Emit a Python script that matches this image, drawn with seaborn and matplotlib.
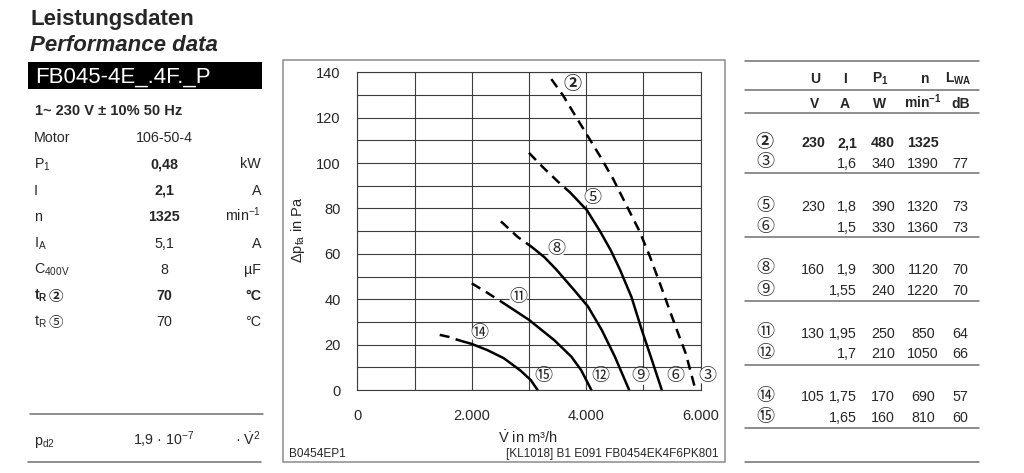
import numpy as np
import pandas as pd
import matplotlib
matplotlib.use("Agg")
import matplotlib.pyplot as plt
from matplotlib.patches import Rectangle
from matplotlib.lines import Line2D
import seaborn as sns

# fan curves (V in m3/h, dp_fa in Pa)
curve_3_v = [3390, 3590, 3770, 4000, 4230, 4470, 4700, 4930, 5110, 5330, 5560, 5740, 5910]
curve_3_dp = [137, 130, 122.5, 113, 103.5, 93, 81.5, 70, 59, 44, 28, 16, 0]

curve_5_dash_v = [3000, 3250, 3540, 3720]
curve_5_dash_dp = [104.5, 98, 91, 87]
curve_5_v = [3720, 4010, 4240, 4430, 4590, 4790, 4970, 5150, 5320]
curve_5_dp = [87, 79.3, 70, 61.5, 53, 41, 26.5, 13, 0]

curve_8_dash_v = [2510, 2800, 3050]
curve_8_dash_dp = [74.3, 67.5, 63]
curve_8_v = [3050, 3270, 3480, 3790, 4030, 4270, 4500, 4750]
curve_8_dp = [63, 58.5, 53, 44, 36.8, 26.5, 14.7, 0]

curve_11_dash_v = [2000, 2280, 2560]
curve_11_dash_dp = [47, 42.7, 38.2]
curve_11_v = [2560, 3000, 3440, 3740, 3910, 4090]
curve_11_dp = [38.2, 30.9, 22, 14.7, 8.8, 0]

curve_14_dash_v = [1440, 1600, 1750]
curve_14_dash_dp = [24.3, 23.4, 22.1]
curve_14_v = [1750, 2000, 2270, 2560, 2850, 3030, 3150]
curve_14_dp = [22.1, 20.3, 17.6, 14, 8.6, 4.4, 0]

# operating point labels on the diagram
point_labels = ["②", "⑤", "⑧", "⑪", "⑭", "⑮", "⑫", "⑨", "⑥", "③"]
point_v = [3756, 4100, 3471, 2812, 2135, 3253, 4253, 4941, 5559, 6118]
point_dp = [134.7, 84.6, 61.8, 40.9, 24.7, 5.9, 5.9, 5.9, 5.9, 5.9]

x_ticks = [0, 1000, 2000, 3000, 4000, 5000, 6000]
x_tick_labels = ["0", "", "2.000", "", "4.000", "", "6.000"]
y_ticks = [0, 20, 40, 60, 80, 100, 120, 140]

# left data block
spec_labels = ["Motor", "P$_1$", "I", "n", "I$_\\mathrm{A}$", "C$_\\mathrm{400V}$"]
spec_values = ["106-50-4", "0,48", "2,1", "1325", "5,1", "8"]
spec_units = ["", "kW", "A", "min$^{-1}$", "A", "µF"]
spec_bold = [False, True, True, True, False, False]
temp_labels = ["②", "⑤"]
temp_values = ["70", "70"]

# right table
table_ids = ["②", "③", "⑤", "⑥", "⑧", "⑨", "⑪", "⑫", "⑭", "⑮"]
table_U = ["230", "", "230", "", "160", "", "130", "", "105", ""]
table_I = ["2,1", "1,6", "1,8", "1,5", "1,9", "1,55", "1,95", "1,7", "1,75", "1,65"]
table_P1 = ["480", "340", "390", "330", "300", "240", "250", "210", "170", "160"]
table_n = ["1325", "1390", "1320", "1360", "1120", "1220", "850", "1050", "690", "810"]
table_LWA = ["", "77", "73", "73", "70", "70", "64", "66", "57", "60"]

sns.set_style("white")
plt.rcParams["font.family"] = ["Liberation Sans", "Noto Sans CJK JP", "DejaVu Sans"]
plt.rcParams["mathtext.fontset"] = "custom"
plt.rcParams["mathtext.rm"] = "Liberation Sans"
plt.rcParams["mathtext.it"] = "Liberation Sans:italic"
plt.rcParams["mathtext.bf"] = "Liberation Sans:bold"

W, H = 1024, 473
fig = plt.figure(figsize=(W / 100, H / 100), dpi=100)


def fx(px):
    return px / W


def fy(py):
    return 1 - py / H


def put(x, y, s, **kw):
    kw.setdefault("fontsize", 10)
    kw.setdefault("va", "baseline")
    fig.text(fx(x), fy(y), s, **kw)


def hline(x0, x1, y, color="#6f6f6f", lw=1.1):
    fig.add_artist(Line2D([fx(x0), fx(x1)], [fy(y), fy(y)], color=color, lw=lw))


# ---- left block
put(30, 25, "Leistungsdaten", fontsize=16, fontweight="bold")
put(30, 51, "Performance data", fontsize=16, fontweight="bold", style="italic")
fig.add_artist(Rectangle((fx(28), fy(89)), fx(262) - fx(28), fy(62) - fy(89),
                         facecolor="black", edgecolor="none"))
put(35, 83, "FB045-4E_.4F._P", fontsize=16, color="white")
put(35, 115, "1~ 230 V ± 10% 50 Hz", fontsize=10.5, fontweight="bold")

for i, (lab, val, unit, b) in enumerate(zip(spec_labels, spec_values, spec_units, spec_bold)):
    yb = 142 + i * 26.4
    put(34, yb, lab, fontsize=10.3)
    put(164, yb, val, ha="center", fontsize=10.3, fontweight="bold" if b else "normal")
    put(261, yb, unit, ha="right", fontsize=10.3)

for i, (circ, val) in enumerate(zip(temp_labels, temp_values)):
    yb = 300 + i * 26
    w = "bold" if i == 0 else "normal"
    put(34, yb, "$\\mathbf{t}_\\mathbf{R}$" if i == 0 else "t$_\\mathrm{R}$", fontsize=10.3, fontweight=w)
    put(56, yb - 3, circ, fontsize=10.5, ha="center", va="center", fontweight=w)
    put(164, yb, val, ha="center", fontsize=10.3, fontweight=w)
    put(261, yb, "°C", ha="right", fontsize=10.3, fontweight=w)

hline(30, 263, 414)
put(34, 445, "p$_\\mathrm{d2}$", fontsize=10.3)
put(164, 445, "1,9 · 10$^{-7}$", ha="center", fontsize=10.3)
put(261, 445, "· $\\dot{\\mathrm{V}}^2$", ha="right", fontsize=10.3)
hline(28, 261, 462)

# ---- diagram
fig.add_artist(Rectangle((fx(283), fy(462)), fx(725) - fx(283), fy(60) - fy(462),
                         facecolor="none", edgecolor="#8a8a8a", lw=1.1))

ax = fig.add_axes([fx(357.3), fy(390), fx(700.7) - fx(357.3), fy(72.3) - fy(390)])
grid_color = "#3c3c3c"
ax.set_xlim(0, 6000)
ax.set_ylim(0, 140)
ax.set_xticks(x_ticks)
ax.set_xticklabels(x_tick_labels)
ax.set_yticks(y_ticks)
ax.set_yticks(np.arange(10, 140, 20), minor=True)
ax.grid(which="both", color=grid_color, lw=0.8)
ax.set_axisbelow(True)
for sp in ax.spines.values():
    sp.set_color(grid_color)
    sp.set_linewidth(0.8)
ax.tick_params(axis="x", length=5, width=0.8, color=grid_color, pad=9, labelsize=10.5)
ax.tick_params(axis="y", which="major", length=6, width=0.8, color=grid_color, pad=6, labelsize=10.5)
ax.tick_params(axis="y", which="minor", length=2, width=0.8, color=grid_color)

segments = [
    (curve_3_v, curve_3_dp, True),
    (curve_5_dash_v, curve_5_dash_dp, True),
    (curve_5_v, curve_5_dp, False),
    (curve_8_dash_v, curve_8_dash_dp, True),
    (curve_8_v, curve_8_dp, False),
    (curve_11_dash_v, curve_11_dash_dp, True),
    (curve_11_v, curve_11_dp, False),
    (curve_14_dash_v, curve_14_dash_dp, True),
    (curve_14_v, curve_14_dp, False),
]
for v, dp, dashed in segments:
    seg = pd.DataFrame({"V": v, "dp": dp})
    line = sns.lineplot(data=seg, x="V", y="dp", ax=ax, color="black", lw=1.8,
                        sort=False, estimator=None)
    if dashed:
        line.lines[-1].set_dashes((4, 2.6))
    line.lines[-1].set_clip_on(False)

for lab, v, dp in zip(point_labels, point_v, point_dp):
    ax.text(v, dp, lab, ha="center", va="center", fontsize=13,
            fontweight="bold" if lab == "②" else "normal", zorder=5,
            bbox=dict(boxstyle="circle,pad=0.0", fc="white", ec="none"))

ax.set_xlabel("")
ax.set_ylabel("")
put(298, 230, "Δp$_\\mathrm{fa}$ in Pa", fontsize=10.5, rotation=90, va="center", ha="center")
put(528, 443, "$\\dot{\\mathrm{V}}$ in m³/h", fontsize=10.5, ha="center")
put(289, 457, "B0454EP1", fontsize=8.5)
put(718, 457, "[KL1018] B1 E091 FB0454EK4F6PK801", fontsize=8.5, ha="right")

# ---- right table
col_x = [815, 845, 880, 925, 958]
put(col_x[0], 83, "U", ha="center", fontweight="bold")
put(col_x[1], 83, "I", ha="center", fontweight="bold")
put(col_x[2], 83, "P$_\\mathbf{1}$", ha="center", fontweight="bold")
put(col_x[3], 83, "n", ha="center", fontweight="bold")
put(col_x[4], 83, "L$_\\mathbf{WA}$", ha="center", fontweight="bold")
put(815, 108, "V", ha="center", fontweight="bold")
put(845, 108, "A", ha="center", fontweight="bold")
put(880, 108, "W", ha="center", fontweight="bold")
put(923, 108, "min$^\\mathbf{-1}$", ha="center", fontweight="bold")
put(961, 108, "dB", ha="center", fontweight="bold")

for ly in [61, 90, 113, 173, 237, 301, 365, 428, 462]:
    hline(745, 979, ly)

row_base = [147, 168, 211, 232, 274, 295, 338, 358, 401, 422]
for i, yb in enumerate(row_base):
    w = "bold" if i == 0 else "normal"
    put(765, yb - 5, table_ids[i], ha="center", va="center", fontsize=13, fontweight=w)
    put(825, yb, table_U[i], ha="right", fontsize=10.3, fontweight=w)
    put(857, yb, table_I[i], ha="right", fontsize=10.3, fontweight=w)
    put(895, yb, table_P1[i], ha="right", fontsize=10.3, fontweight=w)
    put(923, yb, table_n[i], ha="center", fontsize=10.3, fontweight=w)
    put(960, yb, table_LWA[i], ha="center", fontsize=10.3, fontweight=w)

fig.savefig("out.png", dpi=100)
